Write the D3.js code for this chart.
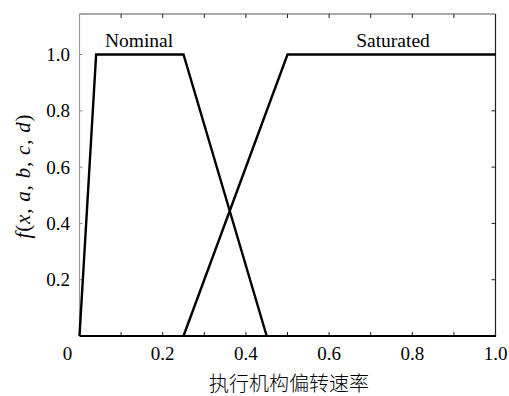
<!DOCTYPE html>
<html>
<head>
<meta charset="utf-8">
<script src="https://cdn.jsdelivr.net/npm/d3@7"></script>
<style>
  html, body { margin: 0; padding: 0; background: #fff; }
  svg { display: block; }
  text { font-family: "Liberation Serif", "DejaVu Serif", serif; fill: #000; }
</style>
</head>
<body>
<svg id="chart" width="509" height="396"></svg>
<script>
// Membership functions (trapezoids) over actuator deflection rate
const nominalX = [0.0, 0.04, 0.25, 0.45];
const nominalY = [0, 1, 1, 0];
const saturatedX = [0.25, 0.5, 1.0];
const saturatedY = [0, 1, 1];
const seriesNames = ["Nominal", "Saturated"];
const xTickValues = [0, 0.2, 0.4, 0.6, 0.8, 1.0];
const xMinorTicks = [0.1, 0.2, 0.3, 0.4, 0.5, 0.6, 0.7, 0.8, 0.9];
const yTickValues = [0.2, 0.4, 0.6, 0.8, 1.0];
const xTitle = "执行机构偏转速率";

const svg = d3.select("#chart");
const L = 79.5, R = 495.5, T = 14, B = 336;

const x = d3.scaleLinear().domain([0, 1]).range([L, R]);
const y = d3.scaleLinear().domain([0, 1.144]).range([B, T]);

// Frame: light left edge, thin top/right, heavy bottom
svg.append("line").attr("x1", L).attr("x2", L).attr("y1", T).attr("y2", B)
  .attr("stroke", "#9a9a9a").attr("stroke-width", 1.2);
svg.append("line").attr("x1", L).attr("x2", R).attr("y1", T).attr("y2", T)
  .attr("stroke", "#555").attr("stroke-width", 1.2);
svg.append("line").attr("x1", R).attr("x2", R).attr("y1", T).attr("y2", B)
  .attr("stroke", "#222").attr("stroke-width", 1.2);

// Inward ticks on top, bottom, left and right
const tickLen = 4;
const tg = svg.append("g").attr("stroke", "#222").attr("stroke-width", 1);
xMinorTicks.forEach(v => {
  tg.append("line").attr("x1", x(v)).attr("x2", x(v)).attr("y1", T).attr("y2", T + tickLen);
  tg.append("line").attr("x1", x(v)).attr("x2", x(v)).attr("y1", B).attr("y2", B - tickLen);
});
yTickValues.forEach(v => {
  tg.append("line").attr("x1", L).attr("x2", L + 3).attr("y1", y(v)).attr("y2", y(v)).attr("stroke", "#888");
  tg.append("line").attr("x1", R).attr("x2", R - tickLen).attr("y1", y(v)).attr("y2", y(v));
});

svg.append("line").attr("x1", L).attr("x2", R + 0.6).attr("y1", B).attr("y2", B)
  .attr("stroke", "#000").attr("stroke-width", 2.2);

// Tick labels
svg.append("g").selectAll("text").data(xTickValues).join("text")
  .attr("x", d => d === 0 ? x(d) - 12 : x(d))
  .attr("y", 360)
  .attr("text-anchor", "middle")
  .attr("font-size", 19)
  .text(d => d === 0 ? "0" : d3.format(".1f")(d));

svg.append("g").selectAll("text").data(yTickValues).join("text")
  .attr("x", 70)
  .attr("y", d => y(d) + 6.5)
  .attr("text-anchor", "end")
  .attr("font-size", 19)
  .text(d => d3.format(".1f")(d));

// Membership curves
const line = d3.line().x(d => x(d[0])).y(d => y(d[1]));
const nominal = nominalX.map((v, i) => [v, nominalY[i]]);
const saturated = saturatedX.map((v, i) => [v, saturatedY[i]]);
[nominal, saturated].forEach(pts => {
  svg.append("path").datum(pts).attr("d", line)
    .attr("fill", "none").attr("stroke", "#000")
    .attr("stroke-width", 2.4).attr("stroke-linejoin", "miter");
});

// Curve labels
svg.append("text").attr("x", 139).attr("y", 47).attr("text-anchor", "middle")
  .attr("font-size", 19.5).text(seriesNames[0]);
svg.append("text").attr("x", 393).attr("y", 47).attr("text-anchor", "middle")
  .attr("font-size", 19.5).text(seriesNames[1]);

// Axis titles
const yt = svg.append("text")
  .attr("transform", "translate(30,176) rotate(-90)")
  .attr("text-anchor", "middle")
  .attr("font-size", 21)
  .attr("letter-spacing", 0.8)
  .attr("font-style", "italic");
yt.append("tspan").text("f");
yt.append("tspan").attr("font-style", "normal").text("(");
yt.append("tspan").text("x");
yt.append("tspan").attr("font-style", "normal").text(", ");
yt.append("tspan").text("a");
yt.append("tspan").attr("font-style", "normal").text(", ");
yt.append("tspan").text("b");
yt.append("tspan").attr("font-style", "normal").text(", ");
yt.append("tspan").text("c");
yt.append("tspan").attr("font-style", "normal").text(", ");
yt.append("tspan").text("d");
yt.append("tspan").attr("font-style", "normal").text(")");

svg.append("text").attr("x", 289).attr("y", 391).attr("text-anchor", "middle")
  .attr("font-size", 20)
  .style("font-family", "'Noto Sans CJK SC', sans-serif")
  .style("font-weight", 300)
  .text(xTitle);
</script>
</body>
</html>
